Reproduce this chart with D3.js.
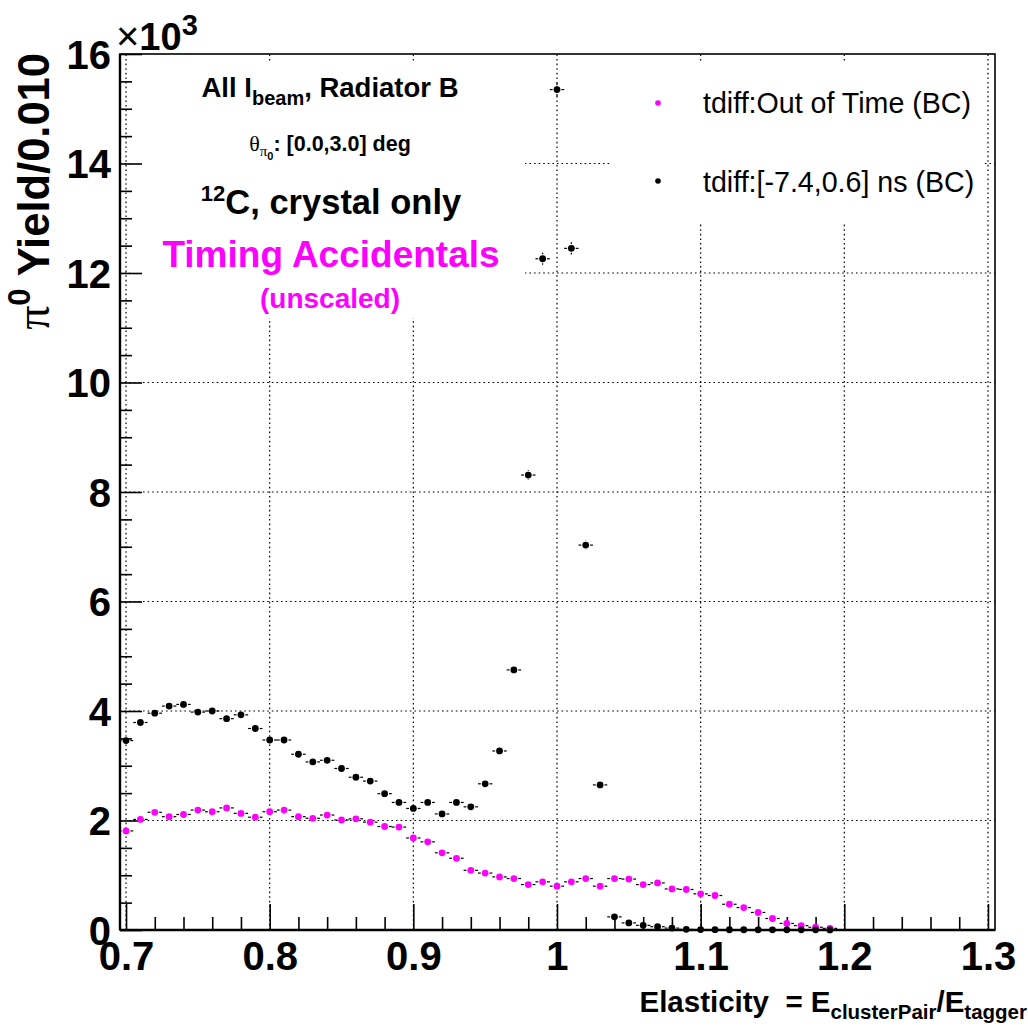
<!DOCTYPE html>
<html><head><meta charset="utf-8">
<script src="https://cdn.jsdelivr.net/npm/d3@7"></script>
<style>
body{margin:0;background:#fff}
svg{display:block}
text{font-family:"Liberation Sans",Arial,Helvetica,sans-serif}
</style>
</head><body>
<svg id="c" width="1028" height="1027"></svg>
<script>
// ---- data (yield in units of 10^3 per 0.010 bin) ----
const elasticity = [0.70,0.71,0.72,0.73,0.74,0.75,0.76,0.77,0.78,0.79,
                    0.80,0.81,0.82,0.83,0.84,0.85,0.86,0.87,0.88,0.89,
                    0.90,0.91,0.92,0.93,0.94,0.95,0.96,0.97,0.98,0.99,
                    1.00,1.01,1.02,1.03,1.04,1.05,1.06,1.07,1.08,1.09,
                    1.10,1.11,1.12,1.13,1.14,1.15,1.16,1.17,1.18,1.19];
const outOfTime = [1.81,2.02,2.15,2.07,2.11,2.19,2.16,2.23,2.13,2.06,
                   2.16,2.19,2.07,2.04,2.10,2.01,2.03,1.97,1.89,1.88,
                   1.68,1.61,1.41,1.31,1.09,1.04,0.97,0.94,0.83,0.88,
                   0.80,0.88,0.94,0.80,0.94,0.93,0.83,0.86,0.75,0.74,
                   0.66,0.63,0.47,0.41,0.32,0.21,0.12,0.08,0.05,0.03];
const inTime = [3.46,3.79,3.96,4.09,4.12,3.98,4.00,3.86,3.93,3.68,
                3.47,3.47,3.21,3.07,3.10,2.95,2.79,2.72,2.49,2.33,
                2.22,2.33,2.12,2.33,2.25,2.67,3.27,4.75,8.31,12.26,
                15.35,12.45,7.03,2.65,0.24,0.13,0.085,0.06,0.035,0.012,
                0.008,0.006,0.005,0.005,0.004,0.004,0.003,0.003,0.003,0.002];
const binWidth = 0.01;
const xTicks = [0.7,0.8,0.9,1.0,1.1,1.2,1.3];
const xTickLabels = ["0.7","0.8","0.9","1","1.1","1.2","1.3"];
const yTicks = [0,2,4,6,8,10,12,14,16];
const yTickLabels = ["0","2","4","6","8","10","12","14","16"];
const seriesNames = ["tdiff:Out of Time (BC)","tdiff:[-7.4,0.6] ns (BC)"];
const seriesColors = ["#ff00ff","#000000"];

// ---- layout ----
const svg = d3.select("#c");
svg.append("rect").attr("width",1028).attr("height",1027).attr("fill","#fff");
const L=120,R=995,T=54,B=930;
const x = d3.scaleLinear().domain([0.6958,1.3049]).range([L,R]);
const y = d3.scaleLinear().domain([0,16]).range([B,T]);
const bold = "bold";

// grid
const grid = svg.append("g").attr("stroke","#000").attr("stroke-width",1.2).attr("stroke-dasharray","1.6,3");
grid.selectAll(".gx").data(xTicks).join("line")
  .attr("x1",d=>x(d)).attr("x2",d=>x(d)).attr("y1",B).attr("y2",T);
grid.selectAll(".gy").data(yTicks.filter(d=>d>0&&d<16)).join("line")
  .attr("x1",L).attr("x2",R).attr("y1",d=>y(d)).attr("y2",d=>y(d));

// paves (white boxes that hide the grid)
svg.append("rect").attr("x",130).attr("y",63).attr("width",395).attr("height",255).attr("fill","#fff");
svg.append("rect").attr("x",612).attr("y",63).attr("width",372).attr("height",159).attr("fill","#fff");

// axes
const fmtX = d=>xTickLabels[xTicks.indexOf(d)];
const gx = svg.append("g").attr("transform",`translate(0,${B})`)
  .call(d3.axisBottom(x).tickValues(xTicks).tickSizeInner(-26).tickSizeOuter(0).tickPadding(12).tickFormat(fmtX));
const xMinor = d3.range(0,31).map(i=>+(0.7+i*0.02).toFixed(2)).filter(v=>xTicks.indexOf(v)<0);
svg.append("g").attr("transform",`translate(0,${B})`)
  .call(d3.axisBottom(x).tickValues(xMinor).tickSizeInner(-13).tickSizeOuter(0).tickFormat(""));
const fmtY = d=>yTickLabels[yTicks.indexOf(d)];
const gy = svg.append("g").attr("transform",`translate(${L},0)`)
  .call(d3.axisLeft(y).tickValues(yTicks).tickSizeInner(-22).tickSizeOuter(0).tickPadding(9).tickFormat(fmtY));
const yMinor = d3.range(0,33).map(i=>i*0.5).filter(v=>yTicks.indexOf(v)<0);
svg.append("g").attr("transform",`translate(${L},0)`)
  .call(d3.axisLeft(y).tickValues(yMinor).tickSizeInner(-12).tickSizeOuter(0).tickFormat(""));
svg.selectAll(".domain").remove();
svg.selectAll(".tick line").attr("stroke","#000").attr("stroke-width",1.6);
gx.selectAll("text").attr("font-size",40).attr("font-weight",bold).attr("fill","#000")
  .attr("font-family","'Liberation Sans',Arial,sans-serif");
gy.selectAll("text").attr("font-size",40).attr("font-weight",bold).attr("fill","#000")
  .attr("dy","0.36em").attr("font-family","'Liberation Sans',Arial,sans-serif");

// frame
svg.append("rect").attr("x",L).attr("y",T).attr("width",R-L).attr("height",B-T)
  .attr("fill","none").attr("stroke","#000").attr("stroke-width",1.6);
svg.append("line").attr("x1",L).attr("x2",R).attr("y1",B).attr("y2",B).attr("stroke","#000").attr("stroke-width",2.6);
svg.append("line").attr("x1",L).attr("x2",L).attr("y1",T).attr("y2",B).attr("stroke","#000").attr("stroke-width",2.4);

// data
function drawSeries(vals,color,r){
  const g = svg.append("g");
  const hw = (x(binWidth)-x(0))/2;
  elasticity.forEach((e,i)=>{
    const cx = x(e), cy = y(vals[i]);
    const err = Math.sqrt(vals[i]*1000)/1000;
    g.append("line").attr("x1",cx-hw).attr("x2",cx-r-1).attr("y1",cy).attr("y2",cy).attr("stroke","#000").attr("stroke-width",1.2);
    g.append("line").attr("x1",cx+r+1).attr("x2",cx+hw).attr("y1",cy).attr("y2",cy).attr("stroke","#000").attr("stroke-width",1.2);
    const yt = y(vals[i]+err), yb = y(Math.max(0,vals[i]-err));
    if (cy-yt > r+1) g.append("line").attr("x1",cx).attr("x2",cx).attr("y1",yt).attr("y2",cy-r-1).attr("stroke","#000").attr("stroke-width",1.2);
    if (yb-cy > r+1) g.append("line").attr("x1",cx).attr("x2",cx).attr("y1",cy+r+1).attr("y2",yb).attr("stroke","#000").attr("stroke-width",1.2);
    g.append("circle").attr("cx",cx).attr("cy",cy).attr("r",r).attr("fill",color);
  });
}
drawSeries(outOfTime,seriesColors[0],3.4);
drawSeries(inTime,seriesColors[1],3.4);

// legend
const lg = svg.append("g");
[[103,113],[181,192]].forEach(([my,ty],i)=>{
  lg.append("circle").attr("cx",658).attr("cy",my).attr("r",2.8).attr("fill",seriesColors[i]);
  lg.append("text").attr("x",703).attr("y",ty).attr("font-size",28.6).attr("fill","#000").text(seriesNames[i]);
});

// pave text
function rich(parent, xx, yy, anchor, parts, attrs){
  const t = parent.append("text").attr("x",xx).attr("y",yy).attr("text-anchor",anchor);
  Object.entries(attrs||{}).forEach(([k,v])=>t.attr(k,v));
  parts.forEach(p=>{
    const s = t.append("tspan").text(p.t);
    if(p.s) s.attr("font-size",p.s);
    if(p.dy) s.attr("dy",p.dy);
    if(p.f) s.attr("font-family",p.f);
    if(p.w) s.attr("font-weight",p.w);
    if(p.c) s.attr("fill",p.c);
  });
  return t;
}
const pv = svg.append("g").attr("font-weight","bold").attr("fill","#000");
rich(pv,330,97,"middle",[{t:"All I",s:27.5},{t:"beam",s:20,dy:8},{t:", Radiator B",s:27.5,dy:-8}]);
rich(pv,330,151,"middle",[{t:"θ",s:22,f:"'Liberation Serif',serif",w:"normal"},{t:"π",s:15,dy:5,f:"'Liberation Serif',serif",w:"normal"},{t:"0",s:11,dy:4},{t:": [0.0,3.0] deg",s:21.5,dy:-9}]);
rich(pv,331,214,"middle",[{t:"12",s:22,dy:-13},{t:"C, crystal only",s:34.5,dy:13}]);
rich(pv,331,267,"middle",[{t:"Timing Accidentals",s:37}],{fill:"#ff00ff"});
rich(pv,330,308,"middle",[{t:"(unscaled)",s:28}],{fill:"#ff00ff"});

// x10^3
rich(svg,116,50,"start",[{t:"×",s:40,w:"normal"},{t:"10",s:38},{t:"3",s:29,dy:-15}],{"font-weight":"bold"});

// axis titles
rich(svg,1027,1012,"end",[{t:"Elasticity\u00a0 = E",s:29.5},{t:"clusterPair",s:20.5,dy:7},{t:"/E",s:29.5,dy:-7},{t:"tagger",s:20.5,dy:7}],{"font-weight":"bold"});
const yt = rich(svg,0,0,"end",[{t:"π",s:48,f:"'Liberation Serif',serif",w:"normal"},{t:"0",s:31,dy:-19},{t:" Yield/0.010",s:43.5,dy:19}],{"font-weight":"bold"});
yt.attr("transform","translate(49,53) rotate(-90)");
</script>
</body></html>
